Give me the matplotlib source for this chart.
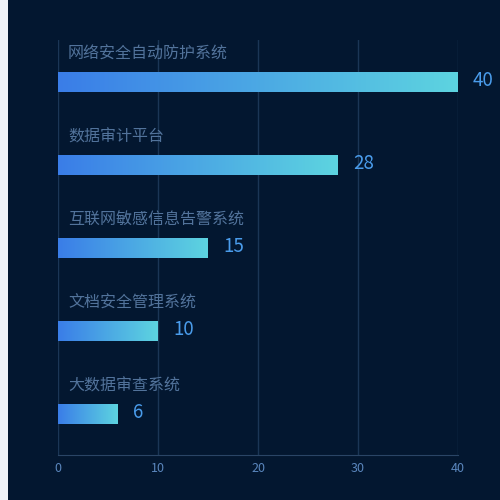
import matplotlib
import numpy as np

matplotlib.use('Agg')
import matplotlib.pyplot as plt
from matplotlib.colors import LinearSegmentedColormap
from matplotlib.patches import Rectangle

plt.rcParams['font.family'] = ['Noto Sans CJK SC', 'DejaVu Sans']

# data
categories = ['网络安全自动防护系统', '数据审计平台', '互联网敏感信息告警系统', '文档安全管理系统', '大数据审查系统']
values = [40, 28, 15, 10, 6]
xticks = [0, 10, 20, 30, 40]

bg = '#031730'
grad = LinearSegmentedColormap.from_list('bar', ['#3a7de8', '#5dd4e0'])

fig = plt.figure(figsize=(5, 5), dpi=100)
fig.patch.set_facecolor('#f0f3f8')
fig.patches.append(Rectangle((8 / 500, 0), 1, 1, transform=fig.transFigure,
                             facecolor=bg, edgecolor='none', zorder=-1))

ax = fig.add_axes([58 / 500, 45 / 500, 400 / 500, 415 / 500])
ax.set_facecolor(bg)
ax.patch.set_alpha(0)

ax.set_xlim(0, 40)
ax.set_ylim(len(categories) - 0.5, -0.5)

bar_h = 20 / 83
gradient = np.linspace(0, 1, 256).reshape(1, -1)
for i, (name, v) in enumerate(zip(categories, values)):
    ax.imshow(gradient, cmap=grad, aspect='auto', zorder=3,
              extent=[0, v, i + bar_h / 2, i - bar_h / 2])
    ax.text(v + 1.5, i - 0.01, str(v), color='#4a9ceb', fontsize=13.5,
            va='center', ha='left', zorder=4)
    ax.text(1.0, i - 0.33, name, color='#52739b', fontsize=11.5,
            va='center', ha='left', zorder=4)

ax.set_xticks(xticks)
ax.set_yticks([])
ax.tick_params(axis='x', colors='#5a86bd', labelsize=9, length=0, pad=5)
ax.grid(axis='x', color='#1b3656', linewidth=1, zorder=0)
for side in ['top', 'right', 'left']:
    ax.spines[side].set_visible(False)
ax.spines['bottom'].set_color('#2a4566')

fig.savefig('out.png', dpi=100, facecolor=fig.get_facecolor())
